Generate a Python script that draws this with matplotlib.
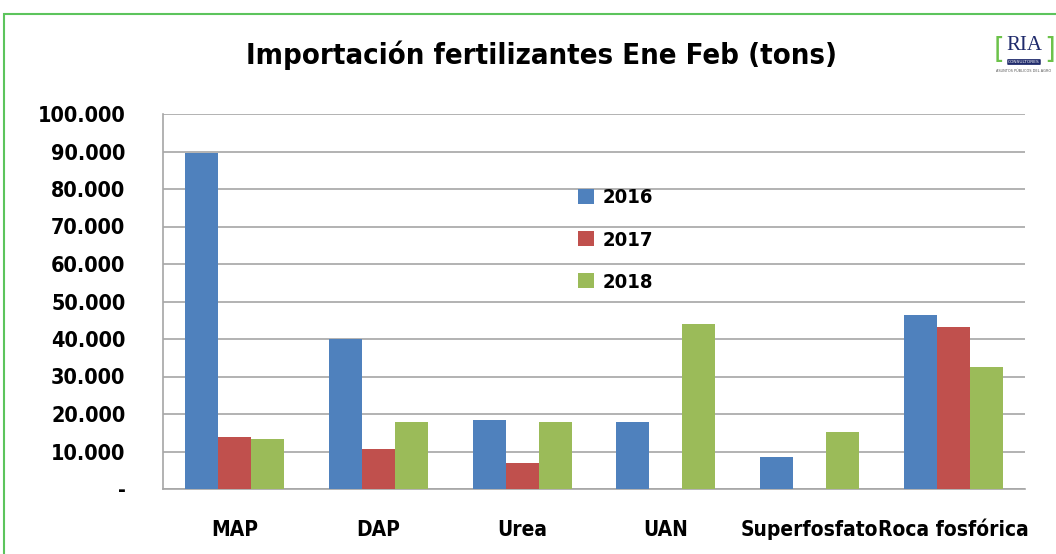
import matplotlib
matplotlib.use("Agg")
import matplotlib.pyplot as plt
import numpy as np
from matplotlib.patches import Rectangle
from matplotlib.ticker import FuncFormatter
from matplotlib import font_manager as fm

categories = ["MAP", "DAP", "Urea", "UAN", "Superfosfato", "Roca fosfórica"]
years = ["2016", "2017", "2018"]
v2016 = [89600, 40000, 18400, 17900, 8500, 46400]
v2017 = [13900, 10700, 6900, 0, 0, 43200]
v2018 = [13300, 17900, 17900, 44000, 15200, 32500]
yticks = [0, 10000, 20000, 30000, 40000, 50000, 60000, 70000, 80000, 90000, 100000]
colors = ["#4f81bd", "#c0504d", "#9bbb59"]

# look for a condensed bold font
cond = None
for f in fm.fontManager.ttflist:
    if "Condensed" in f.fname and "Bold" in f.fname and "DejaVuSans" in f.fname and "Oblique" not in f.fname:
        cond = f.fname
        break
if cond:
    def fp(size):
        return fm.FontProperties(fname=cond, size=size)
else:
    def fp(size):
        return fm.FontProperties(family="DejaVu Sans", weight="bold", size=size)

fig = plt.figure(figsize=(10.56, 5.54), dpi=100)
fig.patches.append(Rectangle((4/1056, -0.1), 1.2, 1 - 14/554 + 0.1, transform=fig.transFigure,
                             fill=False, edgecolor="#5cc45c", linewidth=1.5))
ax = fig.add_axes([163/1056, 1 - 489/554, 862/1056, 375/554])

x = np.arange(len(categories))
w = 0.23
for i, (vals, yr) in enumerate(zip([v2016, v2017, v2018], years)):
    ax.bar(x + (i - 1) * w, vals, w, color=colors[i], label=yr, zorder=3)

ax.set_xlim(-0.5, len(categories) - 0.5)
ax.set_ylim(0, 100000)
ax.set_yticks(yticks)
ax.yaxis.set_major_formatter(FuncFormatter(lambda v, p: "-" if v == 0 else f"{int(v):,}".replace(",", ".")))
ax.grid(axis="y", color="#a6a6a6", linewidth=1.2, zorder=0)
ax.set_xticks(x)
ax.set_xticklabels(categories)
for t in ax.get_xticklabels():
    t.set_fontproperties(fp(15))
ax.tick_params(axis="x", length=0, pad=22)
ax.tick_params(axis="y", length=0, pad=27)
for t in ax.get_yticklabels():
    t.set_fontproperties(fp(15.5))
for s in ["top", "right"]:
    ax.spines[s].set_visible(False)
for s in ["left", "bottom"]:
    ax.spines[s].set_color("#a6a6a6")
    ax.spines[s].set_linewidth(1.2)

leg = ax.legend(loc="upper left", bbox_to_anchor=(0.46, 0.85), frameon=False,
                prop=fp(14.5), handlelength=0.8, handleheight=0.8, labelspacing=1.15,
                handletextpad=0.45)

fig.text(0.513, 1 - 55/554, "Importación fertilizantes Ene Feb (tons)", ha="center", va="center",
         fontproperties=fp(21))

# logo
fig.text(1024/1056, 1 - 46/554, "RIA", ha="center", va="center", fontsize=15,
         family=["Liberation Serif", "DejaVu Serif"], color="#1f2a6b")
fig.text(1024/1056, 1 - 62/554, "CONSULTORES", ha="center", va="center", fontsize=3.2,
         color="white", bbox=dict(boxstyle="round,pad=0.2", fc="#1f2a6b", ec="none"))
fig.text(1024/1056, 1 - 71/554, "ASUNTOS PÚBLICOS DEL AGRO", ha="center", va="center", fontsize=2.5,
         color="#555555")
fig.text(999/1056, 1 - 50/554, "[", ha="center", va="center", fontsize=20, color="#6cc24a",
         family=["DejaVu Sans"])
fig.text(1050/1056, 1 - 50/554, "]", ha="center", va="center", fontsize=20, color="#6cc24a",
         family=["DejaVu Sans"])

fig.savefig("out.png", dpi=100)
